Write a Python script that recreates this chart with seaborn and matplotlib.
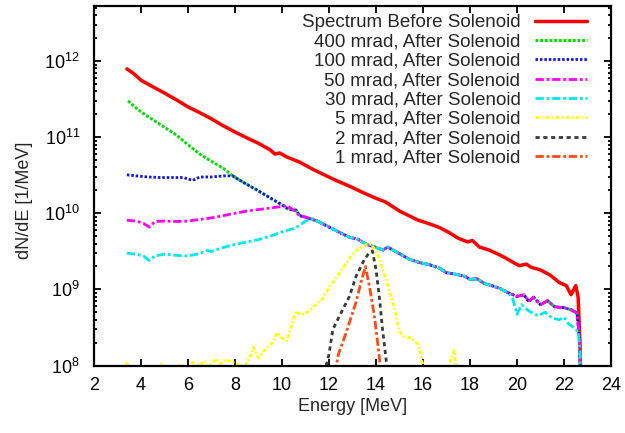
import numpy as np
import pandas as pd
import matplotlib
matplotlib.use("Agg")
import matplotlib.pyplot as plt
from matplotlib.ticker import LogLocator, LogFormatterMathtext, MultipleLocator, NullFormatter
import seaborn as sns

# ---- spectra: energy [MeV] and dN/dE [1/MeV] ----
before_E = [3.4, 3.7, 4.0, 4.5, 5.0, 5.5, 6.0, 6.5, 7.0, 7.5, 8.0, 8.5, 9.0, 9.5, 9.7, 9.9,
            10.2, 10.75, 11.3, 11.8, 12.3, 12.9, 13.4, 13.9, 14.4, 15.0, 15.4, 15.8, 16.2,
            16.7, 17.1, 17.5, 17.9, 18.1, 18.4, 18.8, 19.2, 19.5, 19.8, 20.1, 20.4, 20.6,
            21.0, 21.4, 21.8, 22.1, 22.3, 22.5, 22.6, 22.68, 22.72]
before_N = [7.9e11, 6.8e11, 5.6e11, 4.6e11, 3.8e11, 3.1e11, 2.5e11, 2.1e11, 1.74e11, 1.41e11,
            1.17e11, 9.8e10, 8.3e10, 6.8e10, 6.0e10, 6.2e10, 5.5e10, 4.7e10, 3.8e10, 3.2e10,
            2.7e10, 2.25e10, 1.9e10, 1.62e10, 1.41e10, 1.07e10, 9.3e9, 8.1e9, 7.4e9, 6.5e9,
            5.6e9, 4.7e9, 4.2e9, 4.4e9, 3.6e9, 3.3e9, 2.9e9, 2.6e9, 2.3e9, 2.05e9, 2.15e9,
            1.95e9, 1.8e9, 1.55e9, 1.23e9, 1.12e9, 8.5e8, 1.12e9, 8.0e8, 2.0e8, 5.0e7]

mrad400_E = [3.45, 3.8, 4.2, 4.66, 5.0, 5.5, 6.08, 6.5, 7.0, 7.5, 7.9, 8.4, 8.9, 9.4, 10.0,
             10.3, 10.6, 10.75, 11.0, 11.5, 12.0, 12.5, 12.9, 13.2, 13.6, 14.0, 14.3, 14.5,
             15.0, 15.4, 15.85, 16.3, 16.7, 17.0, 17.4, 17.8, 18.0, 18.3, 18.6, 19.0, 19.3,
             19.6, 20.0, 20.3, 20.5, 20.7, 21.0, 21.3, 21.6, 22.0, 22.3, 22.55, 22.65, 22.72]
mrad400_N = [3.0e11, 2.4e11, 1.95e11, 1.58e11, 1.35e11, 1.07e11, 7.6e10, 6.0e10, 4.8e10,
             3.9e10, 3.1e10, 2.5e10, 2.05e10, 1.66e10, 1.29e10, 1.12e10, 1.10e10, 9.3e9,
             8.9e9, 7.9e9, 6.6e9, 5.5e9, 4.8e9, 4.6e9, 3.9e9, 3.55e9, 3.3e9, 3.6e9, 2.95e9,
             2.5e9, 2.25e9, 2.1e9, 1.9e9, 1.66e9, 1.58e9, 1.48e9, 1.35e9, 1.38e9, 1.2e9,
             1.1e9, 1.02e9, 9.1e8, 8.1e8, 8.5e8, 6.9e8, 7.9e8, 6.3e8, 7.1e8, 5.9e8, 5.75e8,
             5.4e8, 4.9e8, 2.5e8, 5.0e7]

mrad100_E = [3.4, 3.8, 4.3, 4.8, 5.3, 5.8, 6.2, 6.5, 7.0, 7.5, 7.9, 8.4, 8.9, 9.4, 10.0,
             10.3, 10.6, 10.75, 11.0, 11.5, 12.0, 12.5, 12.9, 13.2, 13.6, 14.0, 14.3, 14.5,
             15.0, 15.4, 15.85, 16.3, 16.7, 17.0, 17.4, 17.8, 18.0, 18.3, 18.6, 19.0, 19.3,
             19.6, 20.0, 20.3, 20.5, 20.7, 21.0, 21.3, 21.6, 22.0, 22.3, 22.55, 22.65, 22.72]
mrad100_N = [3.2e10, 3.1e10, 3.0e10, 2.95e10, 2.95e10, 2.95e10, 2.7e10, 3.0e10, 3.0e10,
             3.1e10, 3.1e10, 2.5e10, 2.05e10, 1.66e10, 1.29e10, 1.12e10, 1.10e10, 9.3e9,
             8.9e9, 7.9e9, 6.6e9, 5.5e9, 4.8e9, 4.6e9, 3.9e9, 3.55e9, 3.3e9, 3.6e9, 2.95e9,
             2.5e9, 2.25e9, 2.1e9, 1.9e9, 1.66e9, 1.58e9, 1.48e9, 1.35e9, 1.38e9, 1.2e9,
             1.1e9, 1.02e9, 9.1e8, 8.1e8, 8.5e8, 6.9e8, 7.9e8, 6.3e8, 7.1e8, 5.9e8, 5.75e8,
             5.4e8, 4.9e8, 2.5e8, 5.0e7]

mrad50_E = [3.4, 3.8, 4.1, 4.35, 4.6, 5.0, 5.5, 6.0, 6.5, 7.0, 7.5, 8.0, 8.5, 9.0, 9.5,
            10.0, 10.2, 10.5, 10.75, 11.0, 11.5, 12.0, 12.5, 12.9, 13.2, 13.6, 14.0, 14.3,
            14.5, 15.0, 15.4, 15.85, 16.3, 16.7, 17.0, 17.4, 17.8, 18.0, 18.3, 18.6, 19.0,
            19.3, 19.6, 20.0, 20.3, 20.5, 20.7, 21.0, 21.3, 21.6, 22.0, 22.3, 22.55, 22.65,
            22.72]
mrad50_N = [8.1e9, 7.9e9, 7.4e9, 6.6e9, 7.8e9, 7.9e9, 7.8e9, 7.9e9, 8.3e9, 8.7e9, 9.3e9,
            1.0e10, 1.07e10, 1.12e10, 1.17e10, 1.23e10, 1.26e10, 1.10e10, 9.3e9, 8.9e9,
            7.9e9, 6.6e9, 5.5e9, 4.8e9, 4.6e9, 3.9e9, 3.55e9, 3.3e9, 3.6e9, 2.95e9, 2.5e9,
            2.25e9, 2.1e9, 1.9e9, 1.66e9, 1.58e9, 1.48e9, 1.35e9, 1.38e9, 1.2e9, 1.1e9,
            1.02e9, 9.1e8, 8.1e8, 8.5e8, 6.9e8, 7.9e8, 6.3e8, 7.1e8, 5.9e8, 5.75e8, 5.4e8,
            4.9e8, 2.5e8, 5.0e7]

mrad30_E = [3.4, 3.8, 4.1, 4.35, 4.6, 5.0, 5.5, 6.0, 6.5, 6.8, 7.0, 7.5, 8.0, 8.5, 9.0,
            9.5, 10.0, 10.5, 10.75, 11.0, 11.3, 11.5, 12.0, 12.5, 12.9, 13.2, 13.6, 14.0,
            14.3, 14.5, 15.0, 15.4, 15.85, 16.3, 16.7, 17.0, 17.4, 17.8, 18.0, 18.3, 18.6,
            19.0, 19.3, 19.6, 19.8, 20.0, 20.2, 20.5, 20.9, 21.2, 21.5, 21.8, 22.0, 22.2,
            22.4, 22.6, 22.68, 22.72]
mrad30_N = [3.0e9, 2.9e9, 2.75e9, 2.4e9, 2.75e9, 2.9e9, 2.8e9, 2.75e9, 2.95e9, 3.25e9,
            3.15e9, 3.55e9, 3.9e9, 4.2e9, 4.5e9, 5.0e9, 5.7e9, 6.3e9, 6.9e9, 7.9e9, 8.5e9,
            7.9e9, 6.6e9, 5.5e9, 4.8e9, 4.6e9, 3.9e9, 3.55e9, 3.3e9, 3.6e9, 2.95e9, 2.5e9,
            2.25e9, 2.1e9, 1.9e9, 1.66e9, 1.58e9, 1.48e9, 1.35e9, 1.38e9, 1.2e9, 1.1e9,
            1.02e9, 9.1e8, 7.9e8, 4.7e8, 6.3e8, 5.2e8, 4.5e8, 5.0e8, 4.2e8, 4.0e8, 4.3e8,
            3.5e8, 3.2e8, 2.8e8, 1.6e8, 5.0e7]

mrad5_E = [3.35, 3.55, 4.0, 4.5, 4.9, 5.1, 5.6, 6.0, 6.2, 6.5, 6.7, 6.9, 7.2, 7.4, 7.6,
           8.0, 8.4, 8.7, 8.8, 9.0, 9.2, 9.35, 9.6, 9.8, 10.0, 10.2, 10.4, 10.6, 10.8, 11.0,
           11.2, 11.5, 11.7, 12.0, 12.25, 12.5, 12.75, 13.0, 13.3, 13.6, 13.8, 14.0, 14.2,
           14.35, 14.5, 14.65, 14.8, 15.0, 15.2, 15.5, 15.8, 16.0, 16.1, 16.5, 17.0, 17.2,
           17.33, 17.45, 17.8]
mrad5_N = [1.12e8, 8.9e7, 7.1e7, 7.9e7, 1.07e8, 7.9e7, 1.0e8, 8.9e7, 1.1e8, 1.0e8, 1.15e8,
           9.5e7, 1.23e8, 1.05e8, 1.2e8, 1.07e8, 9.5e7, 1.4e8, 1.74e8, 1.26e8, 1.51e8,
           1.7e8, 2.0e8, 2.7e8, 2.3e8, 2.1e8, 3.3e8, 5.2e8, 4.6e8, 4.8e8, 5.4e8, 6.6e8,
           7.4e8, 1.05e9, 1.35e9, 1.74e9, 2.24e9, 2.9e9, 3.5e9, 3.9e9, 3.9e9, 3.2e9, 2.24e9,
           1.58e9, 1.15e9, 7.9e8, 5.4e8, 2.8e8, 2.4e8, 2.3e8, 1.9e8, 1.0e8, 6.3e7, 6.3e7,
           6.3e7, 1.26e8, 1.58e8, 6.3e7, 5.0e7]

mrad2_E = [11.8, 12.0, 12.16, 12.45, 12.87, 13.15, 13.5, 13.7, 13.85, 14.0, 14.14, 14.28,
           14.43, 14.5]
mrad2_N = [7.9e7, 1.4e8, 2.95e8, 4.5e8, 8.1e8, 1.48e9, 2.45e9, 3.0e9, 3.2e9, 1.82e9, 8.1e8,
           2.95e8, 1.2e8, 6.3e7]

mrad1_E = [12.25, 12.4, 12.73, 13.15, 13.36, 13.55, 13.72, 13.93, 14.14, 14.2]
mrad1_N = [7.9e7, 1.4e8, 2.7e8, 6.8e8, 1.23e9, 2.0e9, 1.1e9, 4.5e8, 1.32e8, 7.9e7]

labels = ["Spectrum Before Solenoid", "400 mrad, After Solenoid", "100 mrad, After Solenoid",
          "50 mrad, After Solenoid", "30 mrad, After Solenoid", "5 mrad, After Solenoid",
          "2 mrad, After Solenoid", "1 mrad, After Solenoid"]

series = [(before_E, before_N), (mrad400_E, mrad400_N), (mrad100_E, mrad100_N),
          (mrad50_E, mrad50_N), (mrad30_E, mrad30_N), (mrad5_E, mrad5_N),
          (mrad2_E, mrad2_N), (mrad1_E, mrad1_N)]

# line appearance for each curve
colors = ["#ff0000", "#00e000", "#1010f0", "#ff00ff", "#00e8f0", "#ffff00", "#3a3a3a", "#ff4a10"]
styles = ["-", (0, (1, 0.6)), (0, (0.9, 0.7)), (0, (3, 1, 1, 1)), (0, (3, 1, 1, 1)),
          (0, (1.4, 0.8, 0.6, 0.8)), (0, (1.5, 1.3)), (0, (3, 1, 1, 1))]
widths = [2.5, 2.1, 2.0, 2.0, 2.0, 2.0, 2.0, 2.0]

sns.set_style("ticks")
plt.rcParams["font.family"] = ["Liberation Sans", "DejaVu Sans"]
plt.rcParams["mathtext.fontset"] = "custom"
plt.rcParams["mathtext.rm"] = "Liberation Sans"
plt.rcParams["mathtext.it"] = "Liberation Sans"

fig = plt.figure(figsize=(6.25, 4.33), dpi=100)
ax = fig.add_axes([94 / 625, 1 - 365.5 / 433, 517 / 625, 360 / 433])

for (E, N), lab, c, ls, lw in zip(series, labels, colors, styles, widths):
    df = pd.DataFrame({"Energy": E, "dNdE": N})
    sns.lineplot(data=df, x="Energy", y="dNdE", ax=ax, color=c, linestyle=ls,
                 linewidth=lw, label=lab, sort=False, estimator=None)

ax.set_yscale("log")
ax.set_xlim(2, 24)
ax.set_ylim(1e8, 10 ** 12.73)
ax.xaxis.set_major_locator(MultipleLocator(2))
ax.yaxis.set_major_locator(LogLocator(base=10, numticks=10))
ax.yaxis.set_major_formatter(LogFormatterMathtext())
ax.yaxis.set_minor_locator(LogLocator(base=10, subs=np.arange(2, 10), numticks=20))
ax.yaxis.set_minor_formatter(NullFormatter())

ax.tick_params(which="both", direction="in", top=True, right=True, width=1.3, colors="black")
ax.tick_params(which="major", length=5, labelsize=13)
ax.tick_params(axis="x", which="major", pad=8)
ax.tick_params(axis="y", which="major", pad=10)
ax.tick_params(which="minor", length=2.5)
for sp in ax.spines.values():
    sp.set_linewidth(1.6)
    sp.set_color("black")

ax.set_xlabel("Energy [MeV]", fontsize=13, labelpad=3)
ax.set_ylabel("dN/dE [1/MeV]", fontsize=13)
ax.yaxis.set_label_coords(-0.118, 0.46)

leg = ax.legend(loc="upper right", bbox_to_anchor=(587 / 625, 1 - 14 / 433),
                bbox_transform=fig.transFigure, frameon=False, markerfirst=False,
                fontsize=13.5, handlelength=2.8, handletextpad=0.75, labelspacing=0.12,
                borderpad=0, borderaxespad=0)

fig.savefig("out.png", dpi=100, facecolor="white")
